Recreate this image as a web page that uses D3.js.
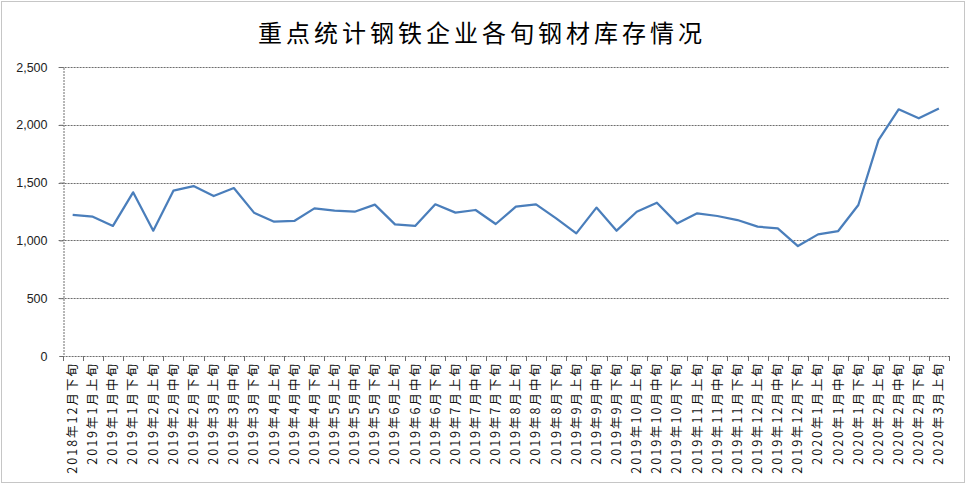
<!DOCTYPE html>
<html><head><meta charset="utf-8">
<script src="https://cdn.jsdelivr.net/npm/d3@7"></script>
<style>body{margin:0;background:#fff}svg{display:block}</style>
</head><body>
<svg id="c" width="968" height="486"></svg>
<script>
const title = "重点统计钢铁企业各旬钢材库存情况";
const categories = [
"2018年12月下旬","2019年1月上旬","2019年1月中旬","2019年1月下旬","2019年2月上旬","2019年2月中旬","2019年2月下旬",
"2019年3月上旬","2019年3月中旬","2019年3月下旬","2019年4月上旬","2019年4月中旬","2019年4月下旬",
"2019年5月上旬","2019年5月中旬","2019年5月下旬","2019年6月上旬","2019年6月中旬","2019年6月下旬",
"2019年7月上旬","2019年7月中旬","2019年7月下旬","2019年8月上旬","2019年8月中旬","2019年8月下旬",
"2019年9月上旬","2019年9月中旬","2019年9月下旬","2019年10月上旬","2019年10月中旬","2019年10月下旬",
"2019年11月上旬","2019年11月中旬","2019年11月下旬","2019年12月上旬","2019年12月中旬","2019年12月下旬",
"2020年1月上旬","2020年1月中旬","2020年1月下旬","2020年2月上旬","2020年2月中旬","2020年2月下旬","2020年3月上旬"];
const inventory = [1220,1205,1125,1416,1084,1430,1470,1384,1453,1240,1162,1168,1277,1257,1248,1309,
1139,1125,1312,1240,1263,1142,1292,1312,1191,1061,1284,1084,1248,1326,1147,
1234,1211,1176,1119,1104,951,1052,1081,1306,1868,2134,2056,2142];
const yTicks = [0,500,1000,1500,2000,2500];

const svg = d3.select("#c");
const L = 62.6, R = 949, T = 67, B = 356;
const x = d3.scaleBand().domain(categories).range([L, R]);
const y = d3.scaleLinear().domain([0, 2500]).range([B, T]);

// outer border
svg.append("rect").attr("x",1.5).attr("y",1.5).attr("width",963).attr("height",481)
  .attr("fill","none").attr("stroke","#8c8c8c").attr("stroke-dasharray","1,1");

// title
svg.append("text").attr("x",482).attr("y",42).attr("text-anchor","middle")
  .attr("font-family","'Noto Sans CJK SC'").attr("font-size",24).attr("letter-spacing",4)
  .attr("fill","#000").text(title);

// gridlines
svg.append("g").selectAll("line").data(yTicks.filter(d=>d>0)).join("line")
  .attr("x1",L-4).attr("x2",R).attr("y1",d=>Math.round(y(d))+0.5).attr("y2",d=>Math.round(y(d))+0.5)
  .attr("stroke","#6e6e6e").attr("stroke-dasharray","2,1");

// y axis
const yAxis = d3.axisLeft(y).tickValues(yTicks).tickFormat(d3.format(",")).tickSize(4).tickPadding(12);
const gy = svg.append("g").attr("transform",`translate(${Math.round(L)+0.5},0)`).call(yAxis);
gy.select(".domain").attr("stroke","#6e6e6e").attr("stroke-dasharray","2,1");
gy.selectAll(".tick line").attr("stroke","#6e6e6e");
gy.selectAll("text").attr("font-family","'Liberation Sans', Arial").attr("font-size",12.5).attr("fill","#222");

// x axis baseline + ticks at boundaries
const gx = svg.append("g");
gx.append("line").attr("x1",L).attr("x2",R).attr("y1",B+0.5).attr("y2",B+0.5)
  .attr("stroke","#6e6e6e").attr("stroke-dasharray","2,1");
const bounds = categories.map(c=>x(c)).concat([x(categories[categories.length-1])+x.bandwidth()]);
gx.selectAll("line.tk").data(bounds).join("line").attr("class","tk")
  .attr("x1",d=>Math.round(d)+0.5).attr("x2",d=>Math.round(d)+0.5).attr("y1",B).attr("y2",B+5)
  .attr("stroke","#6e6e6e");
const xAxis = d3.axisBottom(x).tickSize(0).tickPadding(0);
const gxl = svg.append("g").attr("transform",`translate(0,${B})`).call(xAxis);
gxl.select(".domain").remove();
gxl.selectAll("text").attr("font-family","'Noto Sans CJK SC'").attr("font-size",12.5).attr("letter-spacing",2)
  .attr("fill","#111")
  .attr("text-anchor","end").attr("dy","0.35em").attr("transform","translate(0,6) rotate(-90)")
  .attr("x",0).attr("y",0);

// line
const line = d3.line().x((d,i)=>x(categories[i])+x.bandwidth()/2).y(d=>y(d));
svg.append("path").datum(inventory).attr("d",line).attr("fill","none")
  .attr("stroke","#4a7ebb").attr("stroke-width",2.25).attr("stroke-linejoin","round");
</script>
</body></html>
